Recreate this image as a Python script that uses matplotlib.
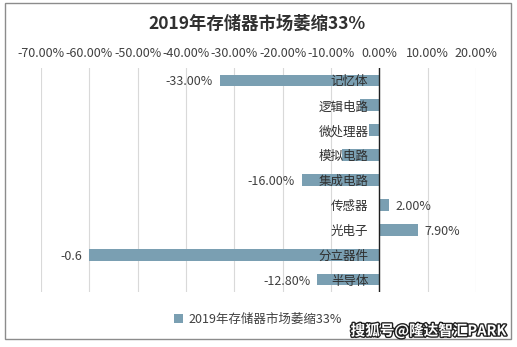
import matplotlib
matplotlib.use("Agg")
import matplotlib.pyplot as plt
import matplotlib.patheffects as pe
import matplotlib.transforms as mtransforms
from matplotlib.patches import Rectangle
from matplotlib.ticker import FuncFormatter

plt.rcParams['font.family'] = ['Noto Sans CJK SC', 'DejaVu Sans']

categories = ["记忆体", "逻辑电路", "微处理器", "模拟电路", "集成电路",
              "传感器", "光电子", "分立器件", "半导体"]
values = [-0.33, -0.041, -0.022, -0.078, -0.16, 0.02, 0.079, -0.6, -0.128]
value_labels = ["-33.00%", None, None, None, "-16.00%", "2.00%", "7.90%", "-0.6", "-12.80%"]
xticks = [-0.7, -0.6, -0.5, -0.4, -0.3, -0.2, -0.1, 0.0, 0.1, 0.2]
series_name = "2019年存储器市场萎缩33%"
title = "2019年存储器市场萎缩33%"

bar_color = "#7A9FB2"
text_color = "#404040"
fs = 9

fig = plt.figure(figsize=(5.17, 3.47), dpi=100)
ax = fig.add_axes([41 / 517, 1 - 292 / 347, (476 - 41) / 517, (292 - 68) / 347])

y = list(range(len(categories)))
ax.barh(y, values, height=0.47, color=bar_color, label=series_name, zorder=2)
ax.set_ylim(len(categories) - 0.5, -0.5)
ax.set_xlim(-0.7, 0.2)

ax.set_xticks(xticks)
ax.xaxis.set_major_formatter(FuncFormatter(lambda v, p: f"{v * 100:.2f}%"))
ax.xaxis.tick_top()
ax.tick_params(axis='x', length=0, pad=6, labelsize=fs, labelcolor=text_color)
ax.grid(axis='x', color="#D9D9D9", linewidth=0.8, zorder=0)

# Category names are drawn on top of the bars, right-aligned just left of zero
ax.set_yticks([])
offset = mtransforms.ScaledTranslation(-11 / 100, 0, fig.dpi_scale_trans)
for yi, name in zip(y, categories):
    ax.text(0, yi, name, transform=ax.transData + offset, ha='right',
            va='center_baseline', fontsize=fs, color="#303030", zorder=5)

for s in ax.spines.values():
    s.set_visible(False)
ax.axvline(0, color="#202020", linewidth=1.0, zorder=3)

for yi, v, lab in zip(y, values, value_labels):
    if lab is None:
        continue
    if v < 0:
        ax.annotate(lab, (v, yi), xytext=(-5, 0), textcoords='offset points',
                    ha='right', va='center_baseline', fontsize=fs, color=text_color)
    else:
        ax.annotate(lab, (v, yi), xytext=(5, 0), textcoords='offset points',
                    ha='left', va='center_baseline', fontsize=fs, color=text_color)

fig.text(257 / 517, 1 - 24 / 347, title, ha='center', va='center',
         fontsize=12.5, fontweight='bold', color="#303030")

leg = fig.legend(loc='center', bbox_to_anchor=(258 / 517, 1 - 319 / 347), frameon=False,
                 fontsize=fs, handlelength=0.7, handleheight=0.7, handletextpad=0.4)
for t in leg.get_texts():
    t.set_color(text_color)

fig.patches.append(Rectangle((5 / 517, 1 - 339 / 347), 506 / 517, 336 / 347,
                             transform=fig.transFigure, fill=False,
                             edgecolor="#8C8C8C", linewidth=1.0))

wm = fig.text(507 / 517, 1 - 331 / 347, "搜狐号@隆达智汇PARK", ha='right', va='center',
              fontsize=10.5, fontweight='bold', color="white")
wm.set_path_effects([pe.withStroke(linewidth=2, foreground="#202020")])

fig.savefig("out.png", dpi=100)
